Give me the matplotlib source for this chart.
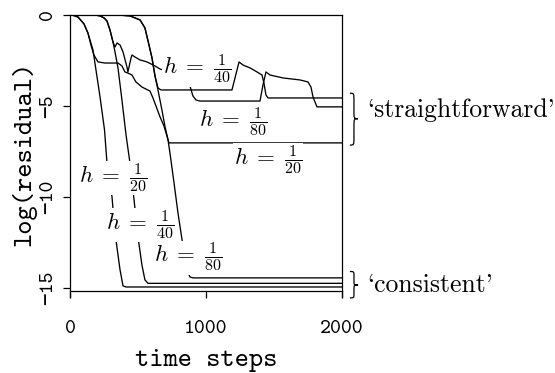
import matplotlib
matplotlib.use('Agg')
import matplotlib.pyplot as plt
from matplotlib.path import Path
from matplotlib.patches import PathPatch
from matplotlib.transforms import blended_transform_factory

# residual histories, log10 of residual against time step
steps_c20 = [0, 15, 59, 103, 132, 169, 221, 254, 272, 309, 331, 368, 390, 412, 2000]
res_c20 = [0, 0, -0.11, -0.49, -0.99, -1.92, -4.51, -6.32, -8.13, -10.0, -11.98, -14.01, -14.89, -14.95, -14.95]

steps_c40 = [0, 184, 221, 250, 272, 294, 316, 331, 353, 382, 412, 441, 471, 500, 529, 551, 574, 2000]
res_c40 = [0, 0, -0.05, -0.16, -0.33, -0.82, -1.48, -2.03, -2.91, -4.67, -6.59, -8.13, -10.16, -12.2,
           -13.74, -14.56, -14.75, -14.75]

steps_c80 = [0, 353, 441, 515, 551, 574, 603, 625, 647, 676, 699, 721, 735, 765, 794, 824, 860, 882, 904, 2000]
res_c80 = [0, 0, -0.05, -0.27, -0.71, -1.43, -2.36, -3.35, -4.12, -5.22, -6.15, -6.87, -7.58, -9.23,
           -10.88, -12.36, -14.01, -14.4, -14.45, -14.45]

steps_s20 = [0, 15, 59, 103, 132, 154, 176, 206, 257, 316, 353, 382, 404, 426, 456, 485, 529, 588,
             610, 632, 662, 691, 713, 728, 2000]
res_s20 = [0, 0, -0.11, -0.49, -0.99, -1.65, -2.2, -2.58, -2.64, -2.64, -2.64, -2.8, -3.13, -3.19,
           -3.3, -3.68, -3.96, -4.18, -4.56, -5.0, -5.6, -6.1, -6.65, -7.03, -7.03]

steps_s40 = [0, 184, 221, 250, 272, 294, 316, 331, 346, 368, 390, 419, 426, 449, 456, 478, 515, 566,
             625, 662, 735, 809, 853, 882, 904, 926, 956, 1397, 1419, 1441, 1471, 1566, 1691, 1750,
             1772, 1787, 1816, 2000]
res_s40 = [0, 0, -0.05, -0.16, -0.33, -0.82, -1.48, -1.76, -1.54, -1.65, -2.03, -2.86, -3.13, -2.36,
           -2.2, -2.31, -2.47, -2.58, -2.8, -2.97, -3.13, -3.35, -3.57, -3.9, -4.45, -4.67, -4.73,
           -4.73, -3.85, -3.13, -3.3, -3.46, -3.57, -3.68, -3.96, -4.51, -5.05, -5.05]

steps_s80 = [0, 353, 441, 515, 551, 574, 603, 625, 647, 669, 1191, 1243, 1272, 1324, 1375, 1412,
             1426, 1441, 1456, 2000]
res_s80 = [0, 0, -0.05, -0.27, -0.71, -1.43, -2.36, -3.35, -4.01, -4.12, -4.12, -2.58, -2.75, -2.91,
           -3.13, -3.3, -3.74, -4.4, -4.56, -4.56]

step_sizes = [20, 40, 80]
x_ticks = [0, 1000, 2000]
y_ticks = [0, -5, -10, -15]
y_tick_labels = ['0', '\u22125', '\u221210', '\u221215']

plt.rcParams['mathtext.fontset'] = 'cm'
TT = ['cmtt10', 'DejaVu Sans Mono']
RM = ['cmr10', 'DejaVu Serif']


def brace(ax, x, y_top, y_bot, y_tip, width, r):
    # right-pointing curly brace, x in axes fraction, y in data units
    xm = x + width / 2
    verts = [(x, y_top), (xm, y_top), (xm, y_top), (xm, y_top - r),
             (xm, y_tip + r),
             (xm, y_tip), (xm, y_tip), (x + width, y_tip),
             (xm, y_tip), (xm, y_tip), (xm, y_tip - r),
             (xm, y_bot + r),
             (xm, y_bot), (xm, y_bot), (x, y_bot)]
    codes = [Path.MOVETO] + [Path.CURVE4] * 3 + [Path.LINETO] + [Path.CURVE4] * 6 + \
            [Path.LINETO] + [Path.CURVE4] * 3
    trans = blended_transform_factory(ax.transAxes, ax.transData)
    ax.add_patch(PathPatch(Path(verts, codes), transform=trans, fill=False,
                           lw=0.9, color='black', clip_on=False))


fig = plt.figure(figsize=(5.55, 3.73), dpi=100)
ax = fig.add_axes([0.1261, 0.2038, 0.4901, 0.756])

for xs, ys in [(steps_c20, res_c20), (steps_c40, res_c40), (steps_c80, res_c80),
               (steps_s20, res_s20), (steps_s40, res_s40), (steps_s80, res_s80)]:
    ax.plot(xs, ys, color='black', lw=0.95, zorder=2)

ax.set_xlim(0, 2000)
ax.set_ylim(-15.5, 0)
ax.spines['bottom'].set_position(('data', -15.15))
for s in ax.spines.values():
    s.set_linewidth(0.9)

ax.set_xticks(x_ticks, labels=[str(v) for v in x_ticks])
ax.set_yticks(y_ticks, labels=y_tick_labels)
ax.tick_params(axis='x', direction='out', length=5, width=0.9, pad=16, labelsize=15)
ax.tick_params(axis='y', direction='out', length=5, width=0.9, pad=4, labelsize=15,
               labelrotation=90)
for lab in ax.get_xticklabels() + ax.get_yticklabels():
    lab.set_family(TT)
for lab in ax.get_yticklabels():
    lab.set_verticalalignment('center')

ax.set_xlabel('time steps', family=TT, fontsize=19.5)
ax.xaxis.set_label_coords(0.5, -0.185)
ax.set_ylabel('log(residual)', family=TT, fontsize=19.5)
ax.yaxis.set_label_coords(-0.125, 0.51)

# labels of the individual curves, first the straightforward then the consistent runs
box = dict(facecolor='white', edgecolor='none', pad=0.5)
straight_pos = [(1456, -7.97), (934, -3.0), (1199, -5.93)]
consist_pos = [(316, -8.96), (515, -11.54), (868, -13.35)]
for n, (x, y) in list(zip(step_sizes, straight_pos)) + list(zip(step_sizes, consist_pos)):
    ax.text(x, y, r'$h\;=\;\frac{1}{%d}$' % n, fontsize=16.5, ha='center', va='center',
            bbox=box, zorder=3)

brace(ax, 1.029, -4.3, -7.15, -5.7, 0.03, 0.45)
brace(ax, 1.029, -14.1, -15.55, -14.85, 0.03, 0.25)
trans = blended_transform_factory(ax.transAxes, ax.transData)
ax.text(1.092, -5.6, "`straightforward'", family=RM, fontsize=18.5, transform=trans,
        va='baseline', ha='left')
ax.text(1.092, -15.2, "`consistent'", family=RM, fontsize=18.5, transform=trans,
        va='baseline', ha='left')

fig.savefig('out.png', dpi=100)
